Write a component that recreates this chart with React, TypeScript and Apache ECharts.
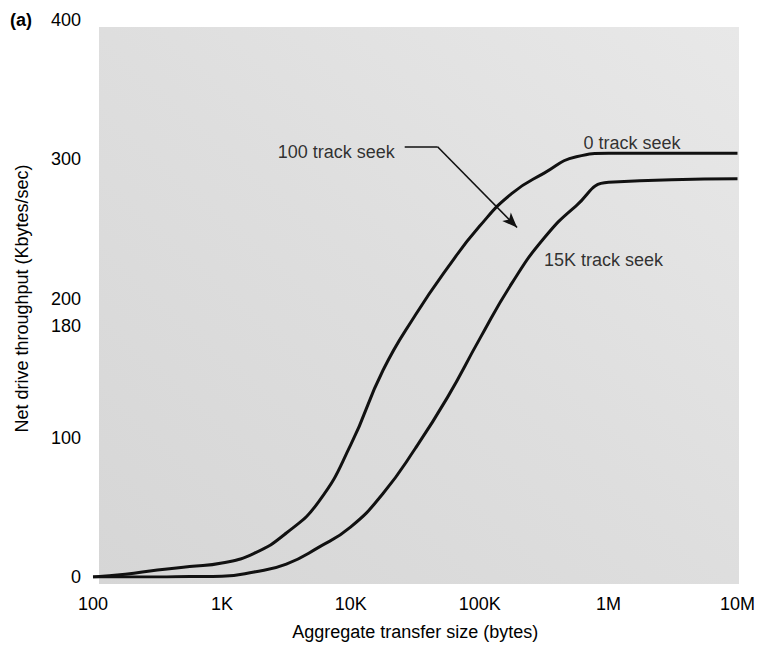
import React, { useEffect, useRef } from 'react';
import * as echarts from 'echarts';

// ---- data ----
const xTickValues = [100, 1000, 10000, 100000, 1000000, 10000000];
const xTickLabels = ['100', '1K', '10K', '100K', '1M', '10M'];
const yTickValues = [0, 100, 180, 200, 300, 400];

// sample positions (bytes), read every quarter decade
const sizes = [100, 178, 316, 562, 1000, 1778, 3162, 5623, 10000, 17783, 31623, 56234, 100000, 177828, 316228, 562341, 1000000, 10000000];

// 0 track seek (upper curve)
const zeroSeek = [0, 2, 5, 7.5, 10, 17, 31.6, 54, 95, 148.5, 188, 222, 252, 275.5, 290, 301.8, 304.3, 304.3];

// 15K track seek (lower curve)
const farSeek = [0, 0, 0, 0.3, 0.5, 3.6, 9.3, 21.3, 36, 60, 92.3, 129, 171, 211, 243.4, 266.7, 283.4, 286];

// annotation labels (data coordinates)
const labelTexts = ['100 track seek', '0 track seek', '15K track seek'];
const labelX = [7720, 1520000, 912000];
const labelY = [305, 312, 228];

// arrow for "100 track seek" (data coordinates)
const arrowX = [26200, 47100, 195000];
const arrowY = [309, 309, 251];

const FONT = "'Liberation Sans', Arial, Helvetica, sans-serif";
const FS = 18;

export default function App() {
  const ref = useRef<HTMLDivElement>(null);
  useEffect(() => {
    if (!ref.current) return;
    const chart = echarts.init(ref.current, null, { renderer: 'svg' });
    const pair = (xs: number[], ys: number[]) => xs.map((x, i) => [x, ys[i]]);
    const option: any = {
      animation: false,
      backgroundColor: '#ffffff',
      textStyle: { fontFamily: FONT },
      grid: { left: 93, right: 13, top: 20, bottom: 69 },
      graphic: [
        {
          type: 'rect',
          z: -10,
          silent: true,
          shape: { x: 99, y: 27, width: 640, height: 557 },
          style: {
            fill: new echarts.graphic.LinearGradient(0, 1, 1, 0, [
              { offset: 0, color: '#d6d6d6' },
              { offset: 0.5, color: '#dedede' },
              { offset: 1, color: '#e8e8e8' },
            ]),
          },
        },
        {
          type: 'text',
          left: 10,
          top: 11,
          style: { text: '(a)', font: `bold ${FS}px ${FONT}`, fill: '#000' },
        },
      ],
      xAxis: {
        type: 'log',
        logBase: 10,
        min: xTickValues[0],
        max: xTickValues[xTickValues.length - 1],
        name: 'Aggregate transfer size (bytes)',
        nameLocation: 'middle',
        nameGap: 46,
        nameTextStyle: { fontSize: FS, color: '#000', fontFamily: FONT },
        axisLine: { show: false },
        axisTick: { show: false },
        splitLine: { show: false },
        axisLabel: {
          margin: 18,
          fontSize: FS,
          color: '#000',
          fontFamily: FONT,
          formatter: (v: number) => {
            const i = xTickValues.findIndex((t) => Math.abs(Math.log10(t) - Math.log10(v)) < 1e-6);
            return i >= 0 ? xTickLabels[i] : '';
          },
        },
      },
      yAxis: {
        type: 'value',
        min: 0,
        max: 400,
        interval: 20,
        name: 'Net drive throughput (Kbytes/sec)',
        nameLocation: 'middle',
        nameGap: 62,
        nameTextStyle: { fontSize: FS, color: '#000', fontFamily: FONT },
        axisLine: { show: false },
        axisTick: { show: false },
        splitLine: { show: false },
        axisLabel: {
          margin: 12,
          fontSize: FS,
          color: '#000',
          fontFamily: FONT,
          formatter: (v: number) => (yTickValues.includes(v) ? String(v) : ''),
        },
      },
      series: [
        {
          name: '0 track seek',
          type: 'line',
          data: pair(sizes, zeroSeek),
          showSymbol: false,
          smooth: 0.5,
          lineStyle: { color: '#111', width: 3 },
          z: 3,
        },
        {
          name: '15K track seek',
          type: 'line',
          data: pair(sizes, farSeek),
          showSymbol: false,
          smooth: 0.5,
          lineStyle: { color: '#111', width: 3 },
          z: 3,
        },
        {
          name: 'labels',
          type: 'scatter',
          symbolSize: 0,
          data: labelTexts.map((t, i) => ({ value: [labelX[i], labelY[i]], name: t })),
          label: {
            show: true,
            position: 'inside',
            formatter: (p: any) => p.name,
            fontSize: FS,
            color: '#000',
            fontFamily: FONT,
          },
          z: 4,
          silent: true,
        },
        {
          name: 'arrow',
          type: 'line',
          data: [],
          markLine: {
            silent: true,
            symbol: ['none', 'none'],
            label: { show: false },
            lineStyle: { color: '#111', width: 1.6, type: 'solid' },
            data: [
              [{ coord: [arrowX[0], arrowY[0]] }, { coord: [arrowX[1], arrowY[1]] }],
              [
                { coord: [arrowX[1], arrowY[1]] },
                { coord: [arrowX[2], arrowY[2]], symbol: 'arrow', symbolSize: [9, 15] },
              ],
            ],
          },
        },
      ],
    };
    chart.setOption(option);
    return () => chart.dispose();
  }, []);
  return (
    <div
      ref={ref}
      style={{ position: 'absolute', left: 0, top: 0, width: 758, height: 646 }}
    />
  );
}
